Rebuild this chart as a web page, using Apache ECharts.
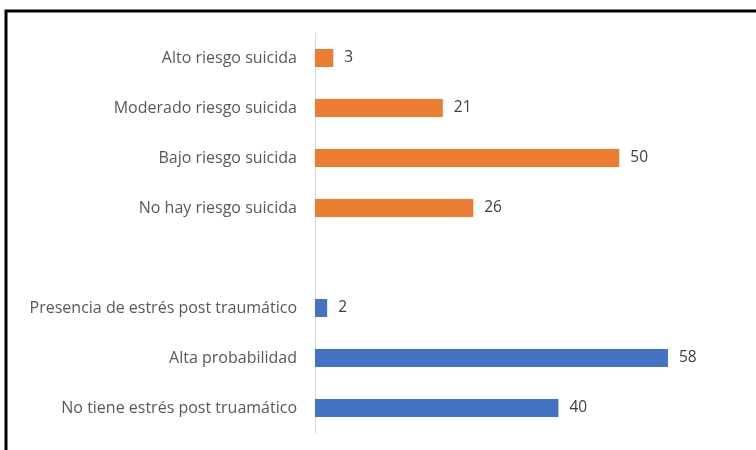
<!DOCTYPE html>
<html><head><meta charset="utf-8">
<script src="https://cdn.jsdelivr.net/npm/echarts@6/dist/echarts.min.js"></script>
<style>html,body{margin:0;padding:0;background:#fff}#c{width:756px;height:450px}</style>
</head><body><div id="c"></div>
<script>
const categories = ['Alto riesgo suicida','Moderado riesgo suicida','Bajo riesgo suicida','No hay riesgo suicida','','Presencia de estrés post traumático','Alta probabilidad','No tiene estrés post truamático'];
const suicideValues = [3, 21, 50, 26, null, null, null, null];
const ptsdValues = [null, null, null, null, null, 2, 58, 40];
const chart = echarts.init(document.getElementById('c'));
const lbl = {show:true, position:'right', distance:11, color:'#404040', fontFamily:'Open Sans', fontSize:15.5};
chart.setOption({
  animation:false,
  graphic:[{type:'rect', shape:{x:6, y:11, width:800, height:500}, style:{fill:'none', stroke:'#000', lineWidth:3}}],
  grid:{left:315, top:33, height:400, width:426},
  xAxis:{type:'value', min:0, max:70, show:false},
  yAxis:{type:'category', data:categories, inverse:true,
    axisLine:{lineStyle:{color:'#D9D9D9', width:1}}, axisTick:{show:false},
    axisLabel:{color:'#595959', fontFamily:'Open Sans', fontSize:16, margin:18}},
  series:[
    {type:'bar', stack:'a', data:suicideValues, barWidth:18, itemStyle:{color:'#ED7D31'}, label:lbl},
    {type:'bar', stack:'a', data:ptsdValues, barWidth:18, itemStyle:{color:'#4472C4'}, label:lbl}
  ]
});
</script></body></html>
